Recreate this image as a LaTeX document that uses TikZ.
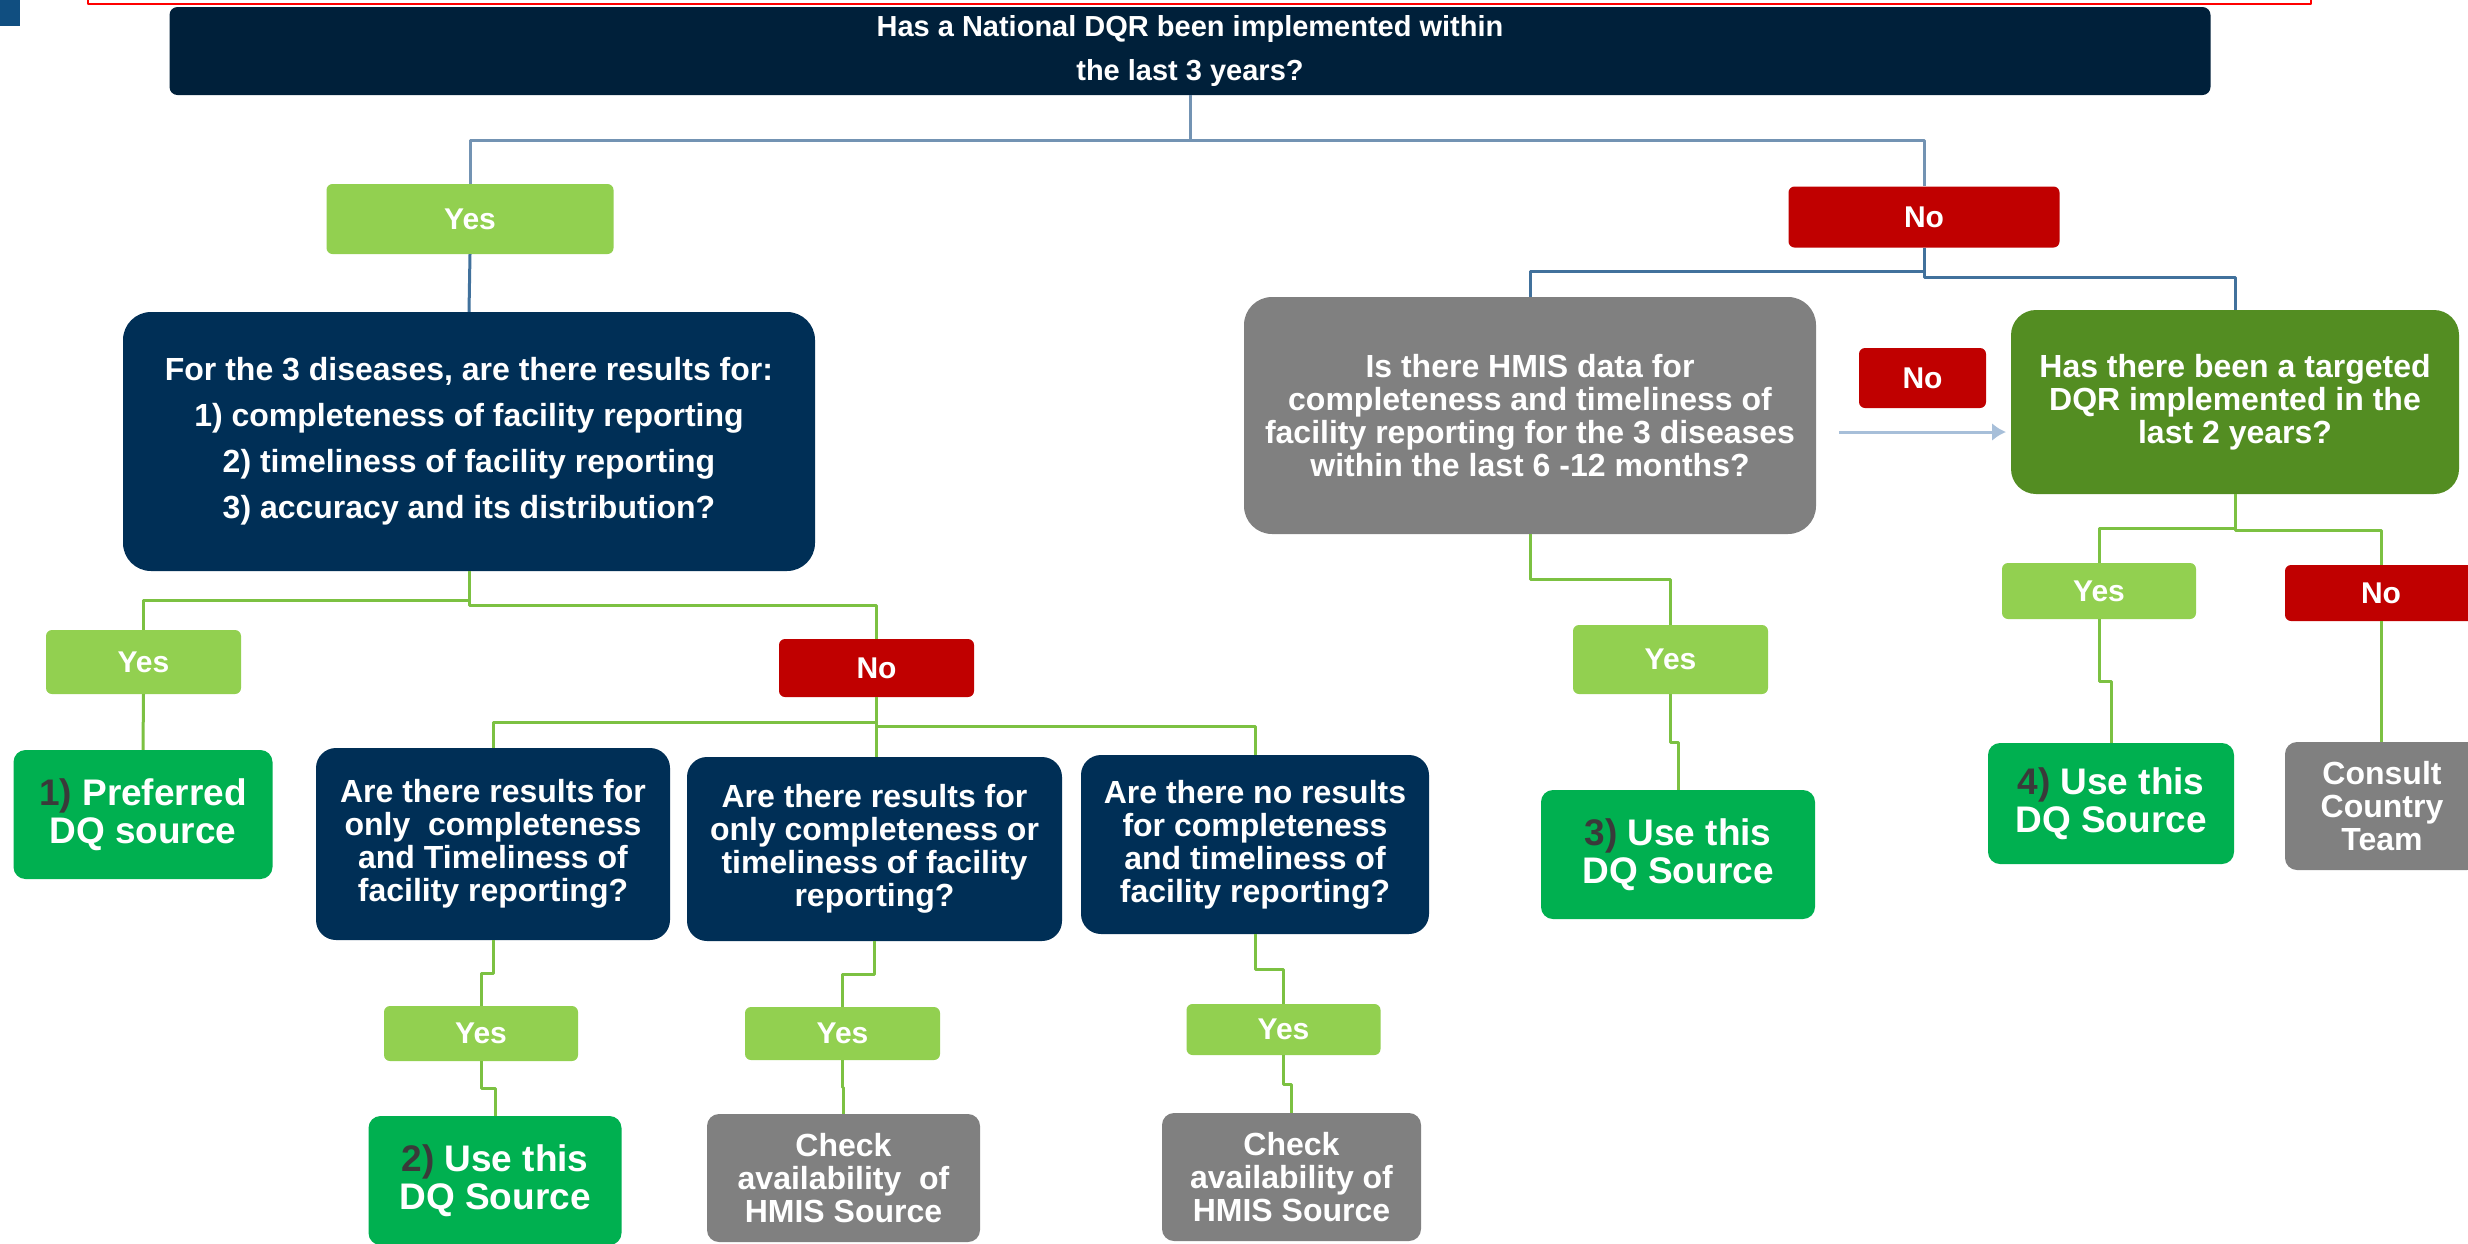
\documentclass[tikz,border=0pt]{standalone}
\usepackage{fontspec}
\setmainfont{Liberation Sans}
\usetikzlibrary{arrows.meta}
\definecolor{topnavy}{HTML}{00203A}
\definecolor{navy}{HTML}{002F56}
\definecolor{yesgreen}{HTML}{92D050}
\definecolor{srcgreen}{HTML}{00B050}
\definecolor{leafgreen}{HTML}{538D22}
\definecolor{nored}{HTML}{C00000}
\definecolor{boxgray}{HTML}{808080}
\definecolor{numgray}{HTML}{3A3A3A}
\definecolor{linegreen}{HTML}{7CC142}
\definecolor{lineblue}{HTML}{7393B3}
\definecolor{linedblue}{HTML}{41719C}
\definecolor{arrowblue}{HTML}{A7BFD9}
\definecolor{barblue}{HTML}{104E80}
\tikzset{
  dqbox/.style={text=white, align=center, inner sep=0pt, rounded corners=6pt,
    font=\bfseries\fontsize{32}{33}\selectfont},
  yesbox/.style={dqbox, fill=yesgreen, minimum width=195pt, font=\bfseries\fontsize{30}{33}\selectfont},
  nobox/.style={dqbox, fill=nored, minimum width=195pt, font=\bfseries\fontsize{30}{33}\selectfont},
  qbox/.style={dqbox, fill=navy, rounded corners=20pt},
  srcbox/.style={dqbox, fill=srcgreen, rounded corners=12pt, font=\bfseries\fontsize{37}{38}\selectfont},
  graybox/.style={dqbox, fill=boxgray, rounded corners=12pt},
  gline/.style={linegreen, line width=3pt},
  bline/.style={lineblue, line width=3pt},
  dline/.style={linedblue, line width=3pt},
}
\newcommand{\num}[1]{{\color{numgray}#1}}
\begin{document}
\begin{tikzpicture}[x=1pt, y=-1pt, line join=round]
\clip (0,0) rectangle (2468,1243);
\fill[white] (0,0) rectangle (2468,1243);
\fill[barblue] (0,-5) rectangle (20,26);
\draw[red, line width=2.5pt] (88,-40) rectangle (2311,4);
\node[dqbox, fill=topnavy, rounded corners=8pt, minimum width=2041pt, minimum height=88pt,
  font=\bfseries\fontsize{29}{44}\selectfont] (top) at (1190,51)
  {Has a National DQR been implemented within\\the last 3 years?};
\node[yesbox, minimum width=287pt, minimum height=70pt] (yesA) at (470,219) {Yes};
\node[nobox, minimum width=271pt, minimum height=61pt] (noA) at (1924,217) {No};
\node[qbox, rounded corners=28pt, minimum width=692pt, minimum height=259pt,
  font=\bfseries\fontsize{32}{46}\selectfont] (diseases) at (469,441.5)
  {For the 3 diseases, are there results for:\\1) completeness of facility reporting\\2) timeliness of facility reporting\\3) accuracy and its distribution?};
\node[graybox, rounded corners=28pt, minimum width=572pt, minimum height=237pt] (hmis) at (1530,415.5)
  {Is there HMIS data for\\completeness and timeliness of\\facility reporting for the 3 diseases\\within the last 6 -12 months?};
\node[nobox, minimum width=127pt, minimum height=60pt] (noB) at (1922.5,378) {No};
\node[dqbox, fill=leafgreen, rounded corners=25pt, minimum width=448pt, minimum height=184pt] (targeted) at (2235,402)
  {Has there been a targeted\\DQR implemented in the\\last 2 years?};
\node[yesbox, minimum height=64pt] (yesB) at (143.5,662) {Yes};
\node[nobox, minimum height=58pt] (noC) at (876.5,668) {No};
\node[yesbox, minimum height=69pt] (yesC) at (1670.5,659.5) {Yes};
\node[yesbox, minimum width=194pt, minimum height=56pt] (yesD) at (2099,591) {Yes};
\node[nobox, minimum width=192pt, minimum height=56pt] (noD) at (2381,593) {No};
\node[srcbox, minimum width=259pt, minimum height=129pt] (pref) at (143,814.5)
  {\num{1)} Preferred\\DQ source};
\node[qbox, minimum width=354pt, minimum height=192pt] (qA) at (493,844)
  {Are there results for\\only\ \ completeness\\and Timeliness of\\facility reporting?};
\node[qbox, minimum width=375pt, minimum height=184pt] (qB) at (874.5,849)
  {Are there results for\\only completeness or\\timeliness of facility\\reporting?};
\node[qbox, minimum width=348pt, minimum height=179pt] (qC) at (1255,844.5)
  {Are there no results\\for completeness\\and timeliness of\\facility reporting?};
\node[srcbox, minimum width=274pt, minimum height=129pt] (useC) at (1678,854.5)
  {\num{3)} Use this\\DQ Source};
\node[srcbox, minimum width=246pt, minimum height=121pt] (useD) at (2111,803.5)
  {\num{4)} Use this\\DQ Source};
\node[graybox, minimum width=194pt, minimum height=128pt] (consult) at (2382,806)
  {Consult\\Country\\Team};
\node[yesbox, minimum width=194pt, minimum height=55pt] (yesE) at (481,1033.5) {Yes};
\node[yesbox, minimum height=53pt] (yesF) at (842.5,1033.5) {Yes};
\node[yesbox, minimum width=194pt, minimum height=51pt] (yesG) at (1283.5,1029.5) {Yes};
\node[srcbox, minimum width=253pt, minimum height=129pt] (useA) at (495,1180.5)
  {\num{2)} Use this\\DQ Source};
\node[graybox, minimum width=273pt, minimum height=128pt] (checkB) at (843.5,1178)
  {Check\\availability\ \ of\\HMIS Source};
\node[graybox, minimum width=259pt, minimum height=128pt] (checkC) at (1291.5,1177)
  {Check\\availability of\\HMIS Source};
\coordinate (arrA) at (1839,432);
\coordinate (arrB) at (2006,432);
\draw[bline] (top.south) -- ++(0,45) -| (yesA.north);
\draw[bline] (top.south) -- ++(0,45) -| (noA.north);
\draw[dline] (yesA.south) -- (diseases.north);
\draw[dline] (noA.south) -- ++(0,24) -| (hmis.north);
\draw[dline] (noA.south) -- ++(0,30) -| (targeted.north);
\draw[arrowblue, line width=3pt, -{Latex[length=14pt, width=18pt]}] (arrA) -- (arrB);
\draw[gline] (diseases.south) -- ++(0,29) -| (yesB.north);
\draw[gline] (diseases.south) -- ++(0,34) -| (noC.north);
\draw[gline] (yesB.south) -- (pref.north);
\draw[gline] (noC.south) -- ++(0,25) -| (qA.north);
\draw[gline] (noC.south) -- (noC.south |- qB.north);
\draw[gline] (noC.south) -- ++(0,29) -| (qC.north);
\draw[gline] (qA.south) -- ++(0,33) -| (yesE.north);
\draw[gline] (yesE.south) -- ++(0,27) -| (useA.north);
\draw[gline] (qB.south) -- ++(0,33) -| (yesF.north);
\draw[gline] (yesF.south) -- ++(0,27) -| (checkB.north);
\draw[gline] (qC.south) -- ++(0,35) -| (yesG.north);
\draw[gline] (yesG.south) -- ++(0,29) -| (checkC.north);
\draw[gline] (hmis.south) -- ++(0,45) -| (yesC.north);
\draw[gline] (yesC.south) -- ++(0,48) -| (useC.north);
\draw[gline] (targeted.south) -- ++(0,34) -| (yesD.north);
\draw[gline] (targeted.south) -- ++(0,36) -| (noD.north);
\draw[gline] (yesD.south) -- ++(0,62) -| (useD.north);
\draw[gline] (noD.south) -- (noD.south |- consult.north);
\end{tikzpicture}
\end{document}
